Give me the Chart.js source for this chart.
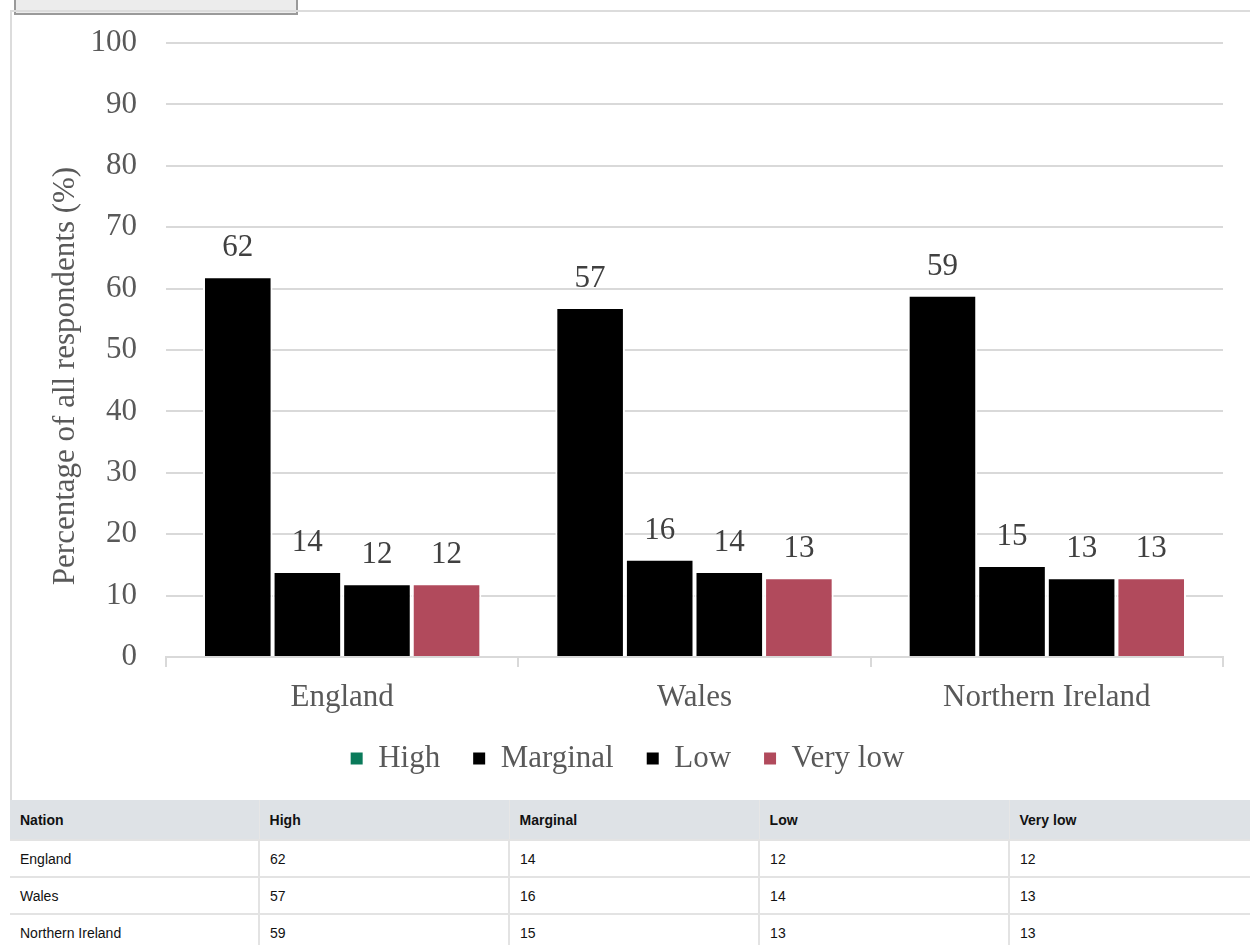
<!DOCTYPE html>
<html>
<head>
<meta charset="utf-8">
<script src="https://cdn.jsdelivr.net/npm/chart.js@4"></script>
<style>
  html, body { margin: 0; padding: 0; background: #fff; overflow: hidden; width: 1250px; height: 945px; }
  #btn { position: absolute; left: 14px; top: -20px; width: 284px; height: 35px; background: #ececec; border: 2px solid #9a9a9a; box-sizing: border-box; }
  #box { position: absolute; left: 10px; top: 10px; width: 1260px; height: 790px; border-top: 2px solid #dcdcdc; border-left: 2px solid #dcdcdc; box-sizing: border-box; }
  #cw { position: absolute; left: 0; top: 0; width: 1250px; height: 788px; }
  table { position: absolute; left: 10px; top: 800px; width: 1250px; border-collapse: collapse; font-family: "Liberation Sans", Arial, sans-serif; font-size: 14px; color: #111; background: #fff; }
  th { background: #dee2e6; font-weight: bold; text-align: left; height: 39px; padding: 0 10px; border-left: 1px solid #e6e6e6; }
  td { height: 35px; padding: 0 10px; border: 2px solid #e3e3e3; }
  th:first-child, td:first-child { border-left: 0; }
  th, td { width: 229px; }
</style>
</head>
<body>
<div id="btn"></div>
<div id="box"><div id="cw"><canvas id="c"></canvas></div></div>
<table id="tbl"></table>
<script>
const categories = ["England", "Wales", "Northern Ireland"];
const seriesNames = ["High", "Marginal", "Low", "Very low"];
const high = [62, 57, 59];
const marginal = [14, 16, 15];
const low = [12, 14, 13];
const veryLow = [12, 13, 13];
const yTicks = [0, 10, 20, 30, 40, 50, 60, 70, 80, 90, 100];
const yTitle = "Percentage of all respondents (%)";

const seriesValues = [high, marginal, low, veryLow];
const barColors = ["#000000", "#000000", "#000000", "#b14a5c"];
const legendColors = ["#0a7a5a", "#000000", "#000000", "#b14a5c"];

// table
const tbl = document.getElementById('tbl');
let html = '<tr><th>Nation</th>' + seriesNames.map(s => '<th>' + s + '</th>').join('') + '</tr>';
categories.forEach((c, i) => {
  html += '<tr><td>' + c + '</td>' + seriesValues.map(v => '<td>' + v[i] + '</td>').join('') + '</tr>';
});
tbl.innerHTML = html;

const serif = '"Liberation Serif", "Times New Roman", serif';
const FS = 31;
const labelPlugin = {
  id: 'barLabels',
  afterLayout(chart) {
    const x = chart.scales.x;
    x.bottom = x.top + 80;
  },
  afterDatasetsDraw(chart) {
    const ctx = chart.ctx;
    ctx.save();
    ctx.font = FS + 'px ' + serif;
    ctx.fillStyle = '#404040';
    ctx.textAlign = 'center';
    ctx.textBaseline = 'alphabetic';
    chart.data.datasets.forEach((ds, di) => {
      const meta = chart.getDatasetMeta(di);
      meta.data.forEach((bar, i) => {
        ctx.fillText(String(ds.data[i]), bar.x, bar.y - 20);
      });
    });
    // y axis title
    ctx.translate(54, 364);
    ctx.rotate(-Math.PI / 2);
    ctx.fillStyle = '#595959';
    ctx.textBaseline = 'middle';
    ctx.fillText(yTitle, 0, 0);
    ctx.restore();
  }
};

new Chart(document.getElementById('c'), {
  type: 'bar',
  data: {
    labels: categories,
    datasets: seriesNames.map((n, i) => ({
      label: n,
      data: seriesValues[i],
      backgroundColor: barColors[i],
      borderColor: '#ffffff',
      borderWidth: 2,
      categoryPercentage: 0.79,
      barPercentage: 1.0
    }))
  },
  options: {
    responsive: true,
    maintainAspectRatio: false,
    animation: false,
    layout: { padding: { left: 20, right: 39, top: 31, bottom: 16 } },
    plugins: {
      tooltip: { enabled: false },
      legend: {
        position: 'bottom',
        labels: {
          font: { family: serif, size: FS },
          color: '#595959',
          boxWidth: 12,
          boxHeight: 12,
          padding: 33,
          generateLabels(chart) {
            return chart.data.datasets.map((ds, i) => ({
              text: ds.label,
              fillStyle: legendColors[i],
              strokeStyle: legendColors[i],
              lineWidth: 0,
              hidden: false,
              datasetIndex: i,
              fontColor: '#595959'
            }));
          }
        }
      }
    },
    scales: {
      x: {
        afterFit(scale) { scale.height = 53; scale.paddingLeft = 0; scale.paddingRight = 0; },
        grid: { display: true, drawOnChartArea: false, drawTicks: true, tickLength: 10, color: '#d9d9d9', lineWidth: 2, offset: true },
        border: { display: true, color: '#d9d9d9', width: 2 },
        ticks: { font: { family: serif, size: FS }, color: '#595959', padding: 12 }
      },
      y: {
        min: 0, max: 100,
        afterBuildTicks(scale) { scale.ticks = yTicks.map(v => ({ value: v })); },
        afterFit(scale) { scale.width = 134; scale.paddingTop = 0; scale.paddingBottom = 0; },
        grid: { color: '#d9d9d9', lineWidth: 2, drawTicks: false },
        border: { display: false },
        ticks: { font: { family: serif, size: FS }, color: '#595959', padding: 29 }
      }
    }
  },
  plugins: [labelPlugin]
});
</script>
</body>
</html>
